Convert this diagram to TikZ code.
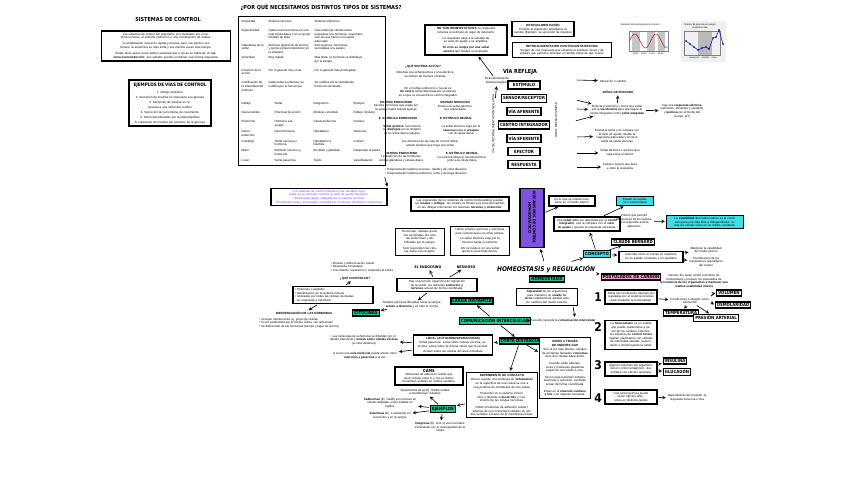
\documentclass[tikz,border=0pt]{standalone}
\usepackage{fontspec}
\setmainfont{Liberation Sans}
\newfontfamily\headfont{DejaVu Sans Condensed Bold}
\newfontfamily\handfont{DejaVu Sans Condensed Bold Oblique}
\usepackage{array}
\usepackage{tikz}
\usetikzlibrary{positioning, arrows}
\definecolor{sombramorada}{RGB}{140, 70, 235}
\definecolor{moradocaja}{RGB}{128, 82, 226}
\definecolor{textomorado}{RGB}{135, 60, 235}
\definecolor{verdetag}{RGB}{38, 196, 138}
\definecolor{verdesombra}{RGB}{20, 140, 95}
\definecolor{cian}{RGB}{62, 222, 232}
\definecolor{rosa}{RGB}{255, 118, 205}
\newcolumntype{L}[1]{>{\raggedright\arraybackslash}p{#1}}
\newcommand{\tx}{\fontsize{3}{3.6}\selectfont}
\newcommand{\tagfont}{\headfont\fontsize{4.3}{5}\selectfont}
\newcommand{\titfont}{\headfont\fontsize{5.5}{6.5}\selectfont}
\pgfdeclarelayer{fondo}
\pgfsetlayers{fondo,main}
% sombra desplazada de una caja, dibujada en la capa de fondo
\newcommand{\sombra}[2]{\fill[#2] ([xshift=1.8pt,yshift=-1.8pt]#1.north west) rectangle ([xshift=1.8pt,yshift=-1.8pt]#1.south east);}

\tikzset{
  txt/.style={font=\tx, align=center, inner sep=0.8pt},
  caja/.style={draw=black, line width=1.3pt, fill=white, font=\tx, align=center, inner sep=2pt},
  tagp/.style={draw=black, line width=1.3pt, fill=white, font=\tagfont, inner sep=1.5pt,
               minimum width=32pt, minimum height=8pt},
  tagv/.style={draw=black, line width=1.1pt, fill=verdetag, font=\tagfont, inner sep=1.4pt},
  tagc/.style={draw=black, line width=1.1pt, fill=cian, font=\tx, align=center, inner sep=1.6pt},
  tagr/.style={draw=black, line width=1.1pt, fill=white, font=\tagfont, inner sep=1.4pt},
  numero/.style={font=\headfont\fontsize{12}{12}\selectfont, inner sep=0pt},
  flecha/.style={->, line width=0.6pt, shorten >=1pt, shorten <=1pt},
}

\begin{document}
\begin{tikzpicture}[x=1pt, y=-1pt, >=stealth]
\useasboundingbox[fill=white] (0,0) rectangle (848,477);

% sistemas de control
\node[font=\titfont] (sctit) at (168,19) {SISTEMAS DE CONTROL};
\node[caja, text width=125pt] (scbox) at (166,46) {Los sistemas de control del organismo son mediados por el sistema nervioso, el sistema endocrino o una combinación de ambos.\\[2.5pt]
La señalización neural es rápida y precisa, pero sus efectos son breves; la endocrina es más lenta y sus efectos duran más tiempo.\\[2.5pt]
Existe tanto apoyo entre ambos sistemas que a veces se habla de un \textbf{sistema neuroendocrino}: sus señales pueden coordinar una misma respuesta.};
\node[caja, text width=78pt, font=\fontsize{3}{5}\selectfont] (ejbox) at (170,103) {{\headfont\fontsize{4.6}{6}\selectfont EJEMPLOS DE VÍAS DE CONTROL}\\[2pt]
1.\ Reflejo miotático\\
2.\ Secreción de insulina en respuesta a la glucosa\\
3.\ Secreción de insulina en respuesta a una señal del cerebro\\
4.\ Secreción de la hormona de crecimiento\\
5.\ Hormonas liberadas por la adenohipófisis\\
6.\ Liberación de insulina por aumento de la glucosa};

% tabla
\node[font=\titfont] (titulo) at (321,7) {¿POR QUÉ NECESITAMOS DISTINTOS TIPOS DE SISTEMAS?};
\node[caja, anchor=north west, inner sep=3pt, align=left] (tabla) at (238,16) {\setlength{\tabcolsep}{2pt}%
\begin{tabular}{@{}L{23pt}L{42pt}L{48pt}@{}}
Propiedad & Sistema nervioso & Sistema endocrino\\[6pt]
Especificidad & Cada neurona termina en una sola célula diana o en un grupo limitado de ellas & Casi todas las células están expuestas a la hormona; responden solo las que tienen el receptor adecuado\\[9pt]
Naturaleza de la señal & Eléctrica (potencial de acción) y química (neurotransmisor en la sinapsis) & Solo química: hormonas secretadas a la sangre\\[9pt]
Velocidad & Muy rápida & Más lenta: la hormona se distribuye por la sangre\\[9pt]
Duración de la acción & Por lo general muy corta & Por lo general más prolongada\\[9pt]
Codificación de la intensidad del estímulo & Cada señal es idéntica; se codifica por la frecuencia & Se codifica por la cantidad de hormona secretada\\
\end{tabular}\\[9pt]
\begin{tabular}{@{}L{21pt}L{27pt}L{28pt}L{29pt}@{}}
Reflejo & Señal & Integración & Ejemplo\\[5pt]
Neural simple & Potencial de acción & Médula o encéfalo & Reflejo rotuliano\\[6pt]
Endocrino & Hormona a la sangre & Célula endocrina & Insulina\\[6pt]
Neuro\-endocrino & Neurohormona & Hipotálamo & Oxitocina\\[6pt]
Complejo & Señal nerviosa y hormona & Hipotálamo e hipófisis & Cortisol\\[6pt]
Mixto & Estímulo nervioso y hormonal & Encéfalo y glándula & Respuesta al estrés\\[6pt]
Local & Señal paracrina & Tejido & Vasodilatación\\
\end{tabular}};

% bloque central de texto
\node[txt] (quesis) at (423,66) {\textbf{¿QUÉ SISTEMA ACTÚA?}};
\node[txt] (mientras) at (425,75) {Mientras una señal química y una eléctrica\\se utilicen de manera conjunta};
\node[txt] (enun) at (428,92) {En un reflejo endocrino o neural es\\\textbf{ahí está} la señal detectada por el sistema\\en el que se encuentra su centro integrador};
\node[txt] (sisend1) at (396,106) {\textbf{SISTEMA ENDOCRINO}\\Secreta hormonas que viajan por\\la sangre hasta células lejanas};
\node[txt] (sisner1) at (455,106) {\textbf{SISTEMA NERVIOSO}\\Envía una señal eléctrica\\a la célula diana};
\node[txt] (estend) at (398,118) {\textbf{E. ESTÍMULO ENDOCRINO}};
\node[txt] (estner) at (456,118) {\textbf{E. ESTÍMULO NEURAL}};
\node[txt] (senend) at (402,130) {\textbf{Señal química}: la hormona\\se \textbf{distingue} por el receptor\\de la célula diana (sangre)};
\node[txt] (senner) at (461,130) {La señal eléctrica viaja por la\\\textbf{neurona} hasta la \textbf{sinapsis}\\con la célula diana};
\node[txt] (efect) at (430,144) {Los efectores de las vías de control reflejo\\actúan siempre que haya una señal};
\node[txt] (sisend2) at (401,157) {\textbf{SISTEMA ENDOCRINO}\\La distinción de las hormonas\\con las glándulas y células diana};
\node[txt] (sisner2) at (462,157) {\textbf{E. ESTÍMULO NEURAL}\\La neurona libera el neurotransmisor\\junto a la célula diana};
\node[txt, align=left] (vinetas) at (426,172) {• Respuesta del sistema nervioso: rápida y de corta duración\\• Respuesta del sistema endocrino: lenta y de larga duración};
\node[caja, text width=112pt, text=textomorado] (morado) at (329,197) {Los sistemas de control mantienen las variables reguladas en un intervalo cercano al valor de ajuste fisiológico.\\
• Respuesta rápida, integrada en el sistema nervioso.\\
• Respuesta lenta y prolongada, mediada por hormonas (mediación endocrina).};
\draw[flecha] (vinetas.south west) -- (morado.north east);

% cajas superiores
\node[caja, text width=78pt] (nohomeo) at (466,40) {\textbf{NO SON HOMEOSTÁTICOS:} la respuesta refuerza el estímulo en lugar de detenerlo.\\[2.5pt]
La respuesta aleja a la variable de su valor de ajuste y se amplifica.\\[2.5pt]
\textbf{El ciclo se rompe por una señal externa} que finaliza la respuesta.};
\node[caja, text width=58pt] (retro) at (543,29) {\textbf{RETROALIMENTACIÓN}\\Permite al organismo anticiparse al cambio (Ejemplo: la secreción de insulina)};
\node[caja, text width=95pt] (retropos) at (562,50) {\textbf{RETROALIMENTACIÓN POSITIVA/ANTICIPATORIA}\\Surgen de una respuesta que refuerza el estímulo inicial y de señales que permiten anticipar el cambio antes de que ocurra.};

% graficas
\node[txt, font=\fontsize{2.4}{3}\selectfont] (g1tit) at (640,25) {Variación de la temperatura corporal};
\fill[gray!45] (632,31) rectangle (640,51);
\fill[gray!45] (647,31) rectangle (655,51);
\fill[gray!45] (658,31) rectangle (665,51);
\draw[gray, line width=0.3pt] (629,31) rectangle (668,51);
\draw[red!75!black, line width=0.45pt, domain=0:38, samples=60] plot ({629.5+\x}, {41 - 7*sin(\x*17)});
\node[txt, font=\fontsize{2.2}{3}\selectfont] (g1eje) at (648,54) {00:00 \quad 06:00 \quad 12:00 \quad 18:00};
\fill[gray!12] (681,21) rectangle (726,62);
\node[txt, font=\fontsize{2.4}{3}\selectfont] (g2tit) at (700,26) {Niveles de glucosa en sangre\\durante el día};
\fill[gray!55] (698,31) rectangle (712,55);
\draw[gray, line width=0.3pt] (684,31) rectangle (720,55);
\draw[blue!70!black, line width=0.45pt] plot[mark=*, mark size=0.5pt] coordinates {(686,41) (690,44) (694,47) (698,50) (702,48) (706,47) (709,49) (713,38) (716,37) (719,30) (723,44)};
\node[txt, font=\fontsize{2.2}{3}\selectfont] (g2eje) at (703,58) {desayuno \quad comida \quad cena};

% via refleja
\node[font=\titfont] (viatit) at (520,71) {VÍA REFLEJA};
\node[tagp] (estimulo) at (524,85) {ESTÍMULO};
\node[tagp, below=4pt of estimulo] (sensor) {SENSOR/RECEPTOR};
\node[tagp, below=4pt of sensor] (aferente) {VÍA AFERENTE};
\node[tagp, below=4pt of aferente] (centro) {CENTRO INTEGRADOR};
\node[tagp, below=4pt of centro] (eferente) {VÍA EFERENTE};
\node[tagp, below=4pt of eferente] (efector) {EFECTOR};
\node[tagp, below=4pt of efector] (respuesta) {RESPUESTA};
\node[txt] (retrotxt) at (497,81) {Retroalimentación\\positiva/negativa};
\node[txt, rotate=90] (rotizq) at (493,124) {VÍA DE RETROALIMENTACIÓN NEGATIVA};
\node[txt, rotate=90] (rotder) at (556,120) {ARCO REFLEJO SIMPLE};
\draw[flecha] (retrotxt) -- (nohomeo);
\draw[flecha] (rotizq) -- (retrotxt);

% textos a la derecha de la via
\node[txt] (alter) at (613,81) {Alteración o cambio};
\node[txt] (senal) at (618,92) {\textbf{SEÑAL DE ENTRADA}};
\node[txt] (detecta) at (617,110) {Detecta el estímulo y envía una señal\\por la \textbf{vía aferente} para que llegue al\\centro integrador como \textbf{señal integrada}};
\node[txt] (elige) at (682,111) {Hay una \textbf{respuesta eléctrica}\\(sensores: aferentes y sentidos)\\y \textbf{química} (en el medio del\\cuerpo, pH)};
\node[txt] (evalua) at (617,136) {Evalúa la señal y la compara con\\el valor de ajuste; decide la\\respuesta adecuada y envía la\\señal de salida eferente};
\node[txt] (viaja) at (620,153) {Señal eléctrica o química que\\viaja hacia el efector};
\node[txt] (celula) at (620,167) {Célula u órgano que lleva\\a cabo la respuesta};
\coordinate (c1) at (576,80);
\coordinate (c2) at (576,100);
\coordinate (c3) at (576,109);
\coordinate (c4) at (575,121);
\coordinate (c5) at (576,137);
\coordinate (c6) at (576,153);
\coordinate (c7) at (576,167);
\draw[flecha] (c1) -- (alter);
\draw[flecha] (c2) -- (detecta);
\draw[flecha] (c3) -- (detecta);
\draw[flecha] (c4) -- (detecta);
\draw[flecha] (c5) -- (evalua);
\draw[flecha] (c6) -- (viaja);
\draw[flecha] (c7) -- (celula);
\draw[flecha] (detecta) -- (senal);
\draw[flecha] (detecta) -- (elige);

% mecanismos de control
\node[draw=black, line width=1.3pt, fill=moradocaja, rotate=-90, align=center,
      font=\headfont\fontsize{3.8}{4.6}\selectfont, minimum width=50pt, minimum height=24pt] (mec) at (532,218)
      {MECANISMOS DE CONTROL\\HOMEOSTÁTICO};
\node[caja, text width=94pt] (respuestas) at (460,204) {Las respuestas de los sistemas de control homeostático pueden ser \textbf{locales} o \textbf{reflejas}: las locales se limitan a la zona del cambio; en las reflejas intervienen los sistemas \textbf{nervioso y endocrino}.};
\node[caja, text width=45pt] (hormonas) at (420,242) {Hormonas: señales químicas secretadas por células endocrinas y distribuidas por la sangre.\\[2pt] Solo responden las células diana con receptor.};
\node[caja, text width=55pt] (neuronas) at (480,241) {Utiliza señales químicas y eléctricas para comunicarse con otras células.\\[2pt] La señal eléctrica viaja por la neurona hasta su extremo.\\[2pt] Ahí se traduce en una señal química (neurotransmisor).};
\node[txt, font=\headfont\fontsize{3.5}{4}\selectfont] (lblendo) at (428,267) {EL ENDOCRINO};
\node[txt, font=\headfont\fontsize{3.5}{4}\selectfont] (lblnerv) at (466,267) {NERVIOSO};
\node[caja, text width=76pt] (funcion) at (437,285) {Hay una función específica de regulación de la señal: los sistemas \textbf{endocrino y nervioso} actúan de forma coordinada.};
\draw[flecha] (funcion) -- (lblendo);
\draw[flecha] (funcion) -- (lblnerv);

\node[caja, text width=42pt] (esbox) at (572,201) {Es lo que se intenta mantener en el medio interno};
\node[caja, text width=62pt] (senalbox) at (587,224) {Una \textbf{señal} debe ser detectada por el \textbf{centro integrador}, que la compara con el \textbf{valor de ajuste} y genera la respuesta necesaria.};
\draw[flecha] (mec) -- (esbox);

% homeostasis
\node[font=\handfont\fontsize{6.5}{7.5}\selectfont] (homreg) at (546,269) {HOMEOSTASIS y REGULACIÓN};
\node[tagv] (homeo) at (547,279) {HOMEOSTASIS};
\node[caja, text width=57pt] (homdef) at (547,297) {\textbf{Capacidad} de los organismos para mantener un \textbf{estado interno} relativamente estable ante los cambios del medio externo.};
\draw[flecha] (homreg) -- (mec);

% derecha: equilibrio y concepto
\node[tagc, text width=34pt] (equil) at (635,201) {Estado de equilibrio o homeostasis};
\node[txt] (criterio) at (634,221) {Criterio que permite\\alteraciones de los valores,\\pero responde ante la\\alteración};
\node[tagc, text width=74pt] (estab) at (705,222) {La \textbf{estabilidad} del medio interno es la condición para una vida libre e independiente: todas las células viven en un medio constante.};
\node[tagr] (claude) at (633,242) {CLAUDE BERNARD};
\node[tagc, font=\tagfont] (concepto) at (597,254) {CONCEPTO};
\node[caja, text width=60pt] (descr) at (651,257) {Describe cómo el cuerpo se mantiene en un estado constante y en equilibrio};
\node[txt] (mantener) at (706,250) {Mantener la estabilidad\\del medio interno};
\node[txt] (coord) at (706,262) {Coordinación de los\\mecanismos reguladores\\del cuerpo};
\draw[flecha] (senalbox) -- (equil);
\draw[flecha] (criterio) -- (estab);
\draw[flecha] (homreg) -- (concepto);
\draw[flecha] (concepto) -- (senalbox);
\draw[flecha] (concepto) -- (claude);
\draw[flecha] (concepto) -- (descr);
\draw[flecha] (descr) -- (mantener);
\draw[flecha] (descr) -- (coord);

% postulados de cannon
\node[tagr, fill=rosa!75] (postul) at (631,277) {POSTULADOS DE CANNON};
\node[txt] (cannon) at (694,281) {Cannon fue quien acuñó el término de\\homeostasis y propuso los postulados de\\\textbf{la tendencia de los organismos a mantener una}\\\textbf{relativa estabilidad interna}};
\draw[flecha] (homreg) -- (postul);
\node[numero] (n1) at (598,297) {1};
\node[numero] (n2) at (598,327) {2};
\node[numero] (n3) at (598,365) {3};
\node[numero] (n4) at (598,398) {4};
\node[caja, text width=48pt] (post1) at (631,297) {Todas las condiciones internas son reguladas por el sistema nervioso para mantener la homeostasis};
\node[caja, text width=48pt] (post2) at (631,335) {La \textbf{homeostasis} es un estado que puede mantenerse a pesar de los cambios externos: los sistemas de \textbf{control tónico} regulan parámetros con señales de intensidad variable, aumentando o disminuyendo la señal.};
\node[caja, text width=48pt] (post3) at (631,369) {Algunos sistemas del organismo tienen control antagónico: dos señales con efectos opuestos};
\node[caja, text width=48pt] (post4) at (631,397) {Una señal química puede tener efectos diferentes en distintos tejidos};
\node[txt] (condic) at (690,301) {Condiciones a integrar como:\\elementos};
\node[tagr] (volumen) at (729,293) {VOLUMEN};
\node[tagr] (osmol) at (733,305) {OSMOLARIDAD};
\node[tagr] (temper) at (681,313) {TEMPERATURA};
\node[tagr] (presion) at (716,318) {PRESIÓN ARTERIAL};
\node[tagr] (insulina) at (675,361) {INSULINA};
\node[tagr] (glucagon) at (677,372) {GLUCAGÓN};
\node[txt] (receptor) at (687,398) {Dependiendo del receptor, la\\respuesta será una u otra};
\draw[flecha] (post1) -- (condic);
\draw[flecha] (condic.north east) to[bend left=25] (volumen.west);
\draw[flecha] (condic.east) to[bend right=10] (osmol.west);
\draw[flecha] (condic) -- (temper);
\draw[flecha] (condic) -- (presion);
\draw[flecha] (post3) -- (insulina);
\draw[flecha] (post3) -- (glucagon);
\draw[flecha] (post4) -- (receptor);

% comunicacion intercelular
\node[txt] (paraello) at (563,320) {Para ello necesita la \textbf{comunicación intercelular}};
\draw[flecha] ([xshift=26pt]homdef.south) -- ([xshift=12pt]paraello.north);
\node[tagv] (comunic) at (495,321) {COMUNICACIÓN INTERCELULAR};
\node[tagv] (larga) at (472,301) {LARGA DISTANCIA};
\node[tagv] (corta) at (520,341) {CORTA DISTANCIA};
\node[tagv] (citoc) at (366,313) {CITOCINAS};
\node[txt] (senales) at (412,305) {Señales químicas liberadas hacia la sangre,\\\textbf{actúan a distancia} y en todo el cuerpo};
\draw[flecha] (paraello) -- (comunic);
\draw[flecha] (comunic) -- (larga);
\draw[flecha] (comunic) -- (corta);
\draw[flecha] (funcion) -- (senales);
\draw[flecha] (senales) -- (citoc);

\node[txt, align=left] (controlan) at (362,267) {• División y diferenciación celular\\• Respuesta inmunitaria\\• Crecimiento, reparación y respuesta al estrés};
\node[txt] (qcontrol) at (355,278) {\textbf{¿QUÉ CONTROLAN?}};
\node[caja, text width=76pt, align=left] (citbox) at (333,295) {• Proteínas o péptidos\\• Identificación en el sistema inmune\\• Liberadas por todas las células nucleadas\\\ \ en respuesta a estímulos};
\draw[flecha] (citbox) -- (qcontrol);
\node[txt] (difer) at (304,313) {\textbf{DIFERENCIACIÓN DE LAS HORMONAS}};
\node[txt, align=left] (diflist) at (299,323) {• Incluyen interleucinas; ej. grupo de células\\• Si son producidas por la misma célula, son autocrinas\\• Se diferencian de las hormonas (tiempo y lugar de acción)};
\draw[flecha] (citbox) -- (difer);

\node[caja, text width=75pt] (local) at (453,345) {\textbf{LOCAL (AUTOCRINAS/PARACRINAS)}\\[1pt] Señal paracrina: actúa sobre células vecinas; autocrina: actúa sobre la misma célula que la secretó.\\[2pt] Actúan sobre las células del área inmediata};
\node[txt] (loctxt1) at (364,340) {Las moléculas de señal local se difunden por el\\líquido intersticial y \textbf{actúan sobre células vecinas}\\(a corta distancia)};
\node[txt] (loctxt2) at (365,356) {A veces una \textbf{sola molécula} puede actuar como\\\textbf{autocrina y paracrina} a la vez};
\draw[flecha] (local) -- (loctxt1);
\draw[flecha] (local) -- (loctxt2);
\draw[flecha] (corta) -- (local);

\node[caja, text width=64pt] (cams) at (429,376) {{\headfont\fontsize{4}{5}\selectfont CAMS}\\Moléculas de adhesión celular que unen células entre sí y con la matriz; transmiten señales en ambos sentidos.};
\node[caja, text width=67pt] (depend) at (502,395) {\textbf{DEPENDIENTE DE CONTACTO}\\[1pt] Ocurre cuando una molécula de \textbf{señalización} en la superficie de una célula se une a una proteína de membrana de otra célula.\\[3pt] Presentes en el sistema inmunitario y durante el \textbf{desarrollo} y crecimiento de las células nerviosas.\\[3pt] CAMs (moléculas de adhesión celular): además de unir, transmiten señales en ambos sentidos a través de la membrana celular.};
\node[caja, text width=47pt] (union) at (565,368) {\textbf{UNIÓN A TRAVÉS DE UNIONES GAP}\\[1pt] Son la vía más directa: canales de proteínas llamados \textbf{conexinas} unen dos células adyacentes.\\[3pt] Cuando están abiertas, iones y moléculas pequeñas pasan de una célula a otra.\\[3pt] Sirven para transmitir señales eléctricas y químicas: permiten actuar de forma coordinada.\\[3pt] Están en el \textbf{músculo cardíaco y liso} y en algunas neuronas.};
\draw[flecha] (corta) -- (depend);
\draw[flecha] (corta) -- (union);

\node[tagv] (ejemplos) at (443,409) {EJEMPLOS};
\node[txt] (superf) at (425,392) {Superfamilia de Ig (Ej. ICAM) unidas\\a membranas celulares};
\node[txt] (cadh) at (390,403) {\textbf{Cadherinas} (Ej. CadE) son uniones en\\células dañadas, unión estable en\\tejidos};
\node[txt] (selec) at (390,416) {\textbf{Selectinas} (Ej. L-selectina) en\\leucocitos y en la sangre};
\node[txt] (integ) at (440,427) {\textbf{Integrinas} (Ej. LFA-1) unen la matriz\\extracelular con el citoesqueleto de la\\célula};
\draw[flecha] (depend) -- (ejemplos);
\draw[flecha] (ejemplos) -- (superf);
\draw[flecha] (ejemplos) -- (cadh);
\draw[flecha] (ejemplos) -- (selec);
\draw[flecha] (ejemplos) -- (integ);

% sombras de colores
\begin{pgfonlayer}{fondo}
\foreach \n in {scbox, ejbox, tabla, nohomeo, retro, retropos, estimulo, sensor, aferente,
                centro, eferente, efector, respuesta, respuestas, esbox, senalbox}
  {\sombra{\n}{sombramorada}}
\foreach \n in {hormonas, neuronas, funcion, citbox, homdef}
  {\sombra{\n}{verdetag}}
\foreach \n in {homeo, comunic, larga, corta, citoc, ejemplos, morado, local, cams, depend, union, claude}
  {\sombra{\n}{black!75}}
\foreach \n in {postul, post1, post2, post3, post4, volumen, osmol, temper, presion, insulina, glucagon}
  {\sombra{\n}{rosa}}
\foreach \n in {descr, estab}
  {\sombra{\n}{cian!70!black}}
\end{pgfonlayer}
\end{tikzpicture}
\end{document}
